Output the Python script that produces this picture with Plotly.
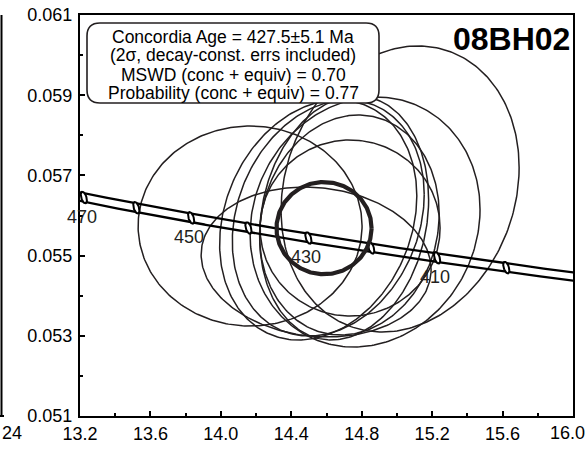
import numpy as np
import plotly.graph_objects as go

# ---------------- data ----------------
# analysis error ellipses (238U/206Pb, 207Pb/206Pb, 2-sigma half widths, correlation)
ell_x = [14.166, 14.541, 15.018, 14.819, 14.553, 14.610, 14.700, 14.734, 14.730]
ell_y = [0.055738, 0.054840, 0.056661, 0.055838, 0.055888, 0.055938, 0.055938, 0.055688, 0.055763]
ell_sx = [0.636, 0.653, 0.676, 0.653, 0.560, 0.545, 0.480, 0.511, 0.510]
ell_sy = [0.002494, 0.001870, 0.003566, 0.003117, 0.002993, 0.002943, 0.003042, 0.002195, 0.002743]
ell_rho = [0.0, -0.1, 0.15, 0.1, 0.2, 0.2, 0.15, 0.0, 0.1]

# concordia age ellipse
conc_x, conc_y, conc_sx, conc_sy, conc_rho = 14.586, 0.055685, 0.270, 0.00115, 0.0

# concordia age markers (Ma) and labelled ages
marker_ages = [400, 410, 420, 430, 440, 450, 460, 470]
label_ages = [410, 430, 450, 470]

x_ticks = [13.2, 13.6, 14.0, 14.4, 14.8, 15.2, 15.6, 16.0]
x_ticktext = ["13.2", "13.6", "14.0", "14.4", "14.8", "15.2", "15.6", "16.0"]
y_ticks = [0.051, 0.053, 0.055, 0.057, 0.059, 0.061]
y_ticktext = ["0.051", "0.053", "0.055", "0.057", "0.059", "0.061"]

info_lines = ["Concordia Age = 427.5\u00b15.1 Ma",
              "(2\u03c3, decay-const. errs included)",
              "MSWD (conc + equiv) = 0.70",
              "Probability (conc + equiv) = 0.77"]
sample_name = "08BH02"
neighbour_label = "24"

# ---------------- helpers ----------------
L238, L235, U_RATIO = 1.55125e-10, 9.8485e-10, 137.88
XR, YR = (13.2, 16.0), (0.051, 0.061)
W, H = 586, 452
ML, MR, MT, MB = 80, 13, 15, 36
PW, PH = W - ML - MR, H - MT - MB
PX_X = PW / (XR[1] - XR[0])
PX_Y = PH / (YR[1] - YR[0])
INK = "#231f20"
FONT = "Liberation Sans, Arial, sans-serif"
TICKFONT = dict(family=FONT, size=18, color="black")


def tw(t_ma):
    t = np.asarray(t_ma, dtype=float) * 1e6
    e8 = np.exp(L238 * t) - 1
    e5 = np.exp(L235 * t) - 1
    return 1 / e8, e5 / e8 / U_RATIO


def ellipse(cx, cy, sx, sy, rho, n=300):
    th = np.linspace(0, 2 * np.pi, n)
    x = cx + sx * np.cos(th)
    y = cy + sy * (rho * np.cos(th) + np.sqrt(1 - rho ** 2) * np.sin(th))
    return x, y


def px2paper(px, py):
    return (px - ML) / PW, (H - MB - py) / PH


fig = go.Figure()

# data ellipses
for cx, cy, sx, sy, r in zip(ell_x, ell_y, ell_sx, ell_sy, ell_rho):
    ex, ey = ellipse(cx, cy, sx, sy, r)
    fig.add_trace(go.Scatter(x=ex, y=ey, mode="lines",
                             line=dict(color=INK, width=1.5), hoverinfo="skip"))

# concordia band (decay-constant envelope)
t_curve = np.linspace(380, 480, 400)
cxv, cyv = tw(t_curve)
band = 0.0019
for f in (1 + band, 1 - band):
    fig.add_trace(go.Scatter(x=cxv, y=cyv * f, mode="lines",
                             line=dict(color="black", width=2.3), hoverinfo="skip"))

# age markers
mx, my = tw(marker_ages)
ang = np.deg2rad(-18)
th = np.linspace(0, 2 * np.pi, 60)
a_px, b_px = 2.6, 6.0
for x0, y0 in zip(mx, my):
    dxp = a_px * np.cos(th)
    dyp = b_px * np.sin(th)
    rx = dxp * np.cos(ang) - dyp * np.sin(ang)
    ry = dxp * np.sin(ang) + dyp * np.cos(ang)
    fig.add_trace(go.Scatter(x=x0 + rx / PX_X, y=y0 - ry / PX_Y, mode="lines",
                             fill="toself", fillcolor="white",
                             line=dict(color="black", width=2), hoverinfo="skip"))

# concordia age ellipse (thick)
ex, ey = ellipse(conc_x, conc_y, conc_sx, conc_sy, conc_rho)
fig.add_trace(go.Scatter(x=ex, y=ey, mode="lines",
                         line=dict(color=INK, width=4.2), hoverinfo="skip"))

annotations = []
lx, ly = tw(label_ages)
for a, x0, y0 in zip(label_ages, lx, ly):
    annotations.append(dict(x=x0, y=y0, xref="x", yref="y", text=str(a),
                            showarrow=False, yshift=-19, xshift=-2,
                            font=dict(family=FONT, size=18, color=INK)))

# last x tick label (sits on the right edge of the page)
annotations.append(dict(x=1.0, y=0, xref="paper", yref="paper",
                        text=x_ticktext[-1], showarrow=False,
                        xanchor="right", yanchor="top", yshift=-6, xshift=MR,
                        borderpad=0, font=TICKFONT))
shown_ticktext = x_ticktext[:-1] + [""]

# info box (rounded rectangle)
bl, br, bt, bb, rad = 87, 379, 23, 103, 13
x0p, y0p = px2paper(bl, bb)
x1p, y1p = px2paper(br, bt)
rxp, ryp = rad / PW, rad / PH
path = (f"M {x0p+rxp},{y1p} L {x1p-rxp},{y1p} Q {x1p},{y1p} {x1p},{y1p-ryp} "
        f"L {x1p},{y0p+ryp} Q {x1p},{y0p} {x1p-rxp},{y0p} "
        f"L {x0p+rxp},{y0p} Q {x0p},{y0p} {x0p},{y0p+ryp} "
        f"L {x0p},{y1p-ryp} Q {x0p},{y1p} {x0p+rxp},{y1p} Z")
shapes = [dict(type="path", path=path, xref="paper", yref="paper",
               line=dict(color=INK, width=1.6), fillcolor="white", layer="above")]

line_y = [36.5, 55.5, 74.5, 93.5]
for txt, py in zip(info_lines, line_y):
    xp, yp = px2paper(233, py)
    annotations.append(dict(x=xp, y=yp, xref="paper", yref="paper", text=txt,
                            showarrow=False, xanchor="center", yanchor="middle",
                            borderpad=0,
                            font=dict(family=FONT, size=17.5, color="black")))

xp, yp = px2paper(571, 39)
annotations.append(dict(x=xp, y=yp, xref="paper", yref="paper",
                        text=f"<b>{sample_name}</b>", showarrow=False,
                        xanchor="right", yanchor="middle", borderpad=0,
                        font=dict(family=FONT, size=32, color="black")))

# partial neighbouring panel at the left edge
xa, ya = px2paper(1.5, 15)
xb, yb = px2paper(1.5, 416)
shapes.append(dict(type="line", xref="paper", yref="paper", x0=xa, y0=ya, x1=xb, y1=yb,
                   line=dict(color="black", width=2)))
xc, yc = px2paper(0, 416)
xd, yd = px2paper(4, 416)
shapes.append(dict(type="line", xref="paper", yref="paper", x0=xc, y0=yc, x1=xd, y1=yd,
                   line=dict(color="black", width=2)))
xp, yp = px2paper(23, 433)
annotations.append(dict(x=xp, y=yp, xref="paper", yref="paper", text=neighbour_label,
                        showarrow=False, xanchor="right", yanchor="middle",
                        borderpad=0, font=TICKFONT))

fig.update_layout(
    width=W, height=H, autosize=False,
    margin=dict(l=ML, r=MR, t=MT, b=MB, pad=0, autoexpand=False),
    paper_bgcolor="white", plot_bgcolor="white",
    showlegend=False,
    annotations=annotations, shapes=shapes,
)
fig.update_xaxes(range=list(XR), tickvals=x_ticks, ticktext=shown_ticktext,
                 ticks="inside", ticklen=5, tickwidth=2, tickcolor="black",
                 minor=dict(ticks="inside", ticklen=3, tickwidth=2, dtick=0.2,
                            tick0=13.2, tickcolor="black"),
                 showline=True, linewidth=2.2, linecolor="black", mirror=True,
                 showgrid=False, zeroline=False, automargin=False,
                 tickfont=TICKFONT)
fig.update_yaxes(range=list(YR), tickvals=y_ticks, ticktext=y_ticktext,
                 ticks="inside", ticklen=5, tickwidth=2, tickcolor="black",
                 minor=dict(ticks="inside", ticklen=3, tickwidth=2, dtick=0.001,
                            tick0=0.051, tickcolor="black"),
                 showline=True, linewidth=2.2, linecolor="black", mirror=True,
                 showgrid=False, zeroline=False, automargin=False,
                 ticklabelstandoff=2,
                 tickfont=TICKFONT)

fig.write_html("out.html")
